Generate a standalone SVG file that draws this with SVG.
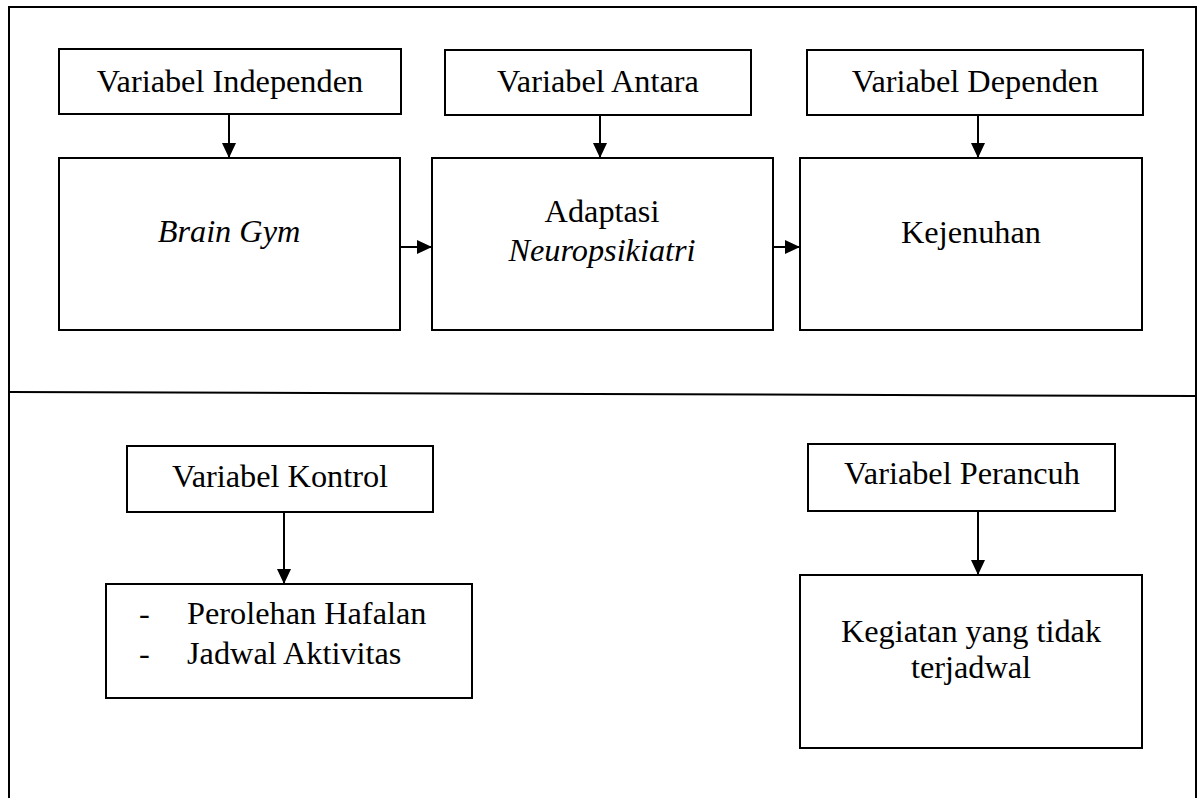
<svg xmlns="http://www.w3.org/2000/svg" width="1201" height="798" viewBox="0 0 1201 798">
<style>
.box{fill:#fff;stroke:#000;stroke-width:2}
.t{font-family:"Liberation Serif","Times New Roman","DejaVu Serif",serif;font-size:32.3px;fill:#000;text-anchor:middle}
.i{font-style:italic}
.l{text-anchor:start}
.c{stroke:#000;stroke-width:2;fill:none}
</style>
<defs>
<marker id="ah" markerUnits="userSpaceOnUse" markerWidth="15" markerHeight="14" refX="15" refY="7" orient="auto">
<path d="M0,0 L15,7 L0,14 z" fill="#000"/>
</marker>
</defs>
<rect width="1201" height="798" fill="#fff"/>
<g id="frame">
<path d="M9,798 V7 H1196 V798" class="c"/>
<line x1="9" y1="392" x2="1196" y2="396" class="c"/>
</g>
<g id="connectors">
<line x1="229" y1="114" x2="229" y2="158" class="c" marker-end="url(#ah)"/>
<line x1="600" y1="115" x2="600" y2="158" class="c" marker-end="url(#ah)"/>
<line x1="978" y1="115" x2="978" y2="158" class="c" marker-end="url(#ah)"/>
<line x1="400" y1="247" x2="432" y2="247" class="c" marker-end="url(#ah)"/>
<line x1="773" y1="247" x2="800" y2="247" class="c" marker-end="url(#ah)"/>
<line x1="284" y1="512" x2="284" y2="584" class="c" marker-end="url(#ah)"/>
<line x1="978" y1="511" x2="978" y2="575" class="c" marker-end="url(#ah)"/>
</g>
<g id="var-independen">
<rect class="box" x="59" y="49" width="342" height="65"/>
<text class="t" x="230" y="92">Variabel Independen</text>
</g>
<g id="var-antara">
<rect class="box" x="445" y="50" width="306" height="65"/>
<text class="t" x="598" y="92">Variabel Antara</text>
</g>
<g id="var-dependen">
<rect class="box" x="807" y="50" width="336" height="65"/>
<text class="t" x="975" y="92">Variabel Dependen</text>
</g>
<g id="brain-gym">
<rect class="box" x="59" y="158" width="341" height="172"/>
<text class="t i" x="229" y="242">Brain Gym</text>
</g>
<g id="adaptasi">
<rect class="box" x="432" y="158" width="341" height="172"/>
<text class="t" x="602" y="222">Adaptasi</text>
<text class="t i" x="602" y="261">Neuropsikiatri</text>
</g>
<g id="kejenuhan">
<rect class="box" x="800" y="158" width="342" height="172"/>
<text class="t" x="971" y="243">Kejenuhan</text>
</g>
<g id="var-kontrol">
<rect class="box" x="127" y="446" width="306" height="66"/>
<text class="t" x="280" y="487">Variabel Kontrol</text>
</g>
<g id="kontrol-list">
<rect class="box" x="106" y="584" width="366" height="114"/>
<text class="t l" x="139" y="624">-</text>
<text class="t l" x="187" y="624">Perolehan Hafalan</text>
<text class="t l" x="139" y="664">-</text>
<text class="t l" x="187" y="664">Jadwal Aktivitas</text>
</g>
<g id="var-perancuh">
<rect class="box" x="808" y="444" width="307" height="67"/>
<text class="t" x="962" y="484">Variabel Perancuh</text>
</g>
<g id="kegiatan">
<rect class="box" x="800" y="575" width="342" height="173"/>
<text class="t" x="971" y="642">Kegiatan yang tidak</text>
<text class="t" x="971" y="678">terjadwal</text>
</g>
</svg>
